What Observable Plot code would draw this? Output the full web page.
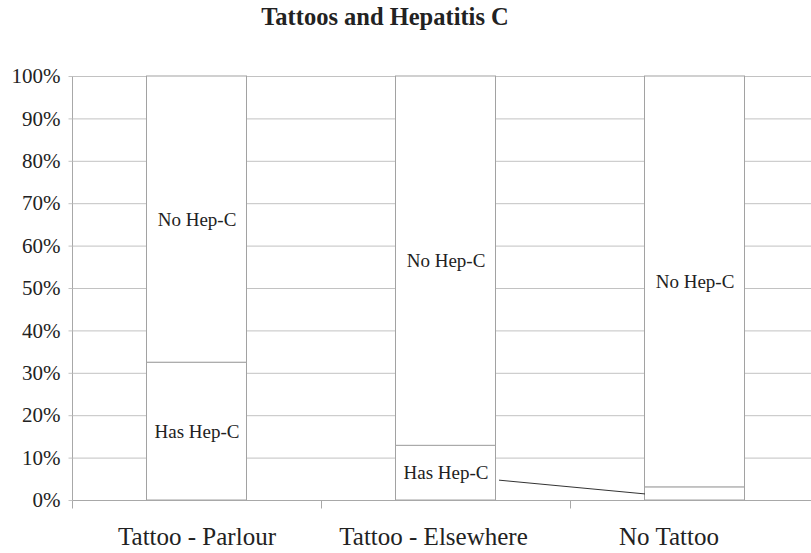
<!DOCTYPE html>
<html><head><meta charset="utf-8">
<script src="https://cdn.jsdelivr.net/npm/d3@7"></script>
<script src="https://cdn.jsdelivr.net/npm/@observablehq/plot@0.6"></script>
<style>
body{margin:0;background:#fff;}
#wrap{position:relative;width:811px;height:553px;overflow:hidden;background:#fff;}
#chart{position:absolute;left:0;top:0;width:819px;height:553px;}
#chart svg{max-width:none !important;width:819px !important;height:553px !important;}
#chart svg, #chart svg g, #chart svg text{font-family:"Liberation Serif","Times New Roman",serif !important;}
#title{position:absolute;left:0;top:5px;width:770px;text-align:center;font:bold 24.5px/24px "Liberation Serif","Times New Roman",serif;color:#222;}
</style></head><body>
<div id="wrap"><div id="chart"></div><div id="title">Tattoos and Hepatitis C</div></div>
<script>
const categories = ["Tattoo - Parlour", "Tattoo - Elsewhere", "No Tattoo"];
const statuses = ["Has Hep-C", "No Hep-C"];
const hasHepC = [0.325, 0.129, 0.031];
const noHepC = [0.675, 0.871, 0.969];
const yTicks = [0, 0.1, 0.2, 0.3, 0.4, 0.5, 0.6, 0.7, 0.8, 0.9, 1.0];

const data = [];
categories.forEach((c, i) => {
  data.push({cat: c, status: statuses[0], value: hasHepC[i]});
  data.push({cat: c, status: statuses[1], value: noHepC[i]});
});

const serif = '"Liberation Serif","Times New Roman",serif';
const gridColor = "#c2c2c2";
const axisColor = "#a8a8a8";
const barStroke = "#a2a2a2";
const textColor = "#222";
const barInset = 74.5;
const catLabelShift = [0, -12.5, -26]; // the original's category labels drift left of the band centres

function extras(index, scales, values, dims) {
  const x = scales.x, y = scales.y;
  const bw = typeof x.bandwidth === "function" ? x.bandwidth() : x.bandwidth;
  const g = d3.create("svg:g").attr("transform", "translate(0.5,0.5)");
  const x0 = dims.marginLeft, y0 = y(0);
  g.append("line").attr("x1", x0).attr("x2", x0).attr("y1", y(1)).attr("y2", y0 + 8).attr("stroke", axisColor);
  g.append("line").attr("x1", x0).attr("x2", dims.width).attr("y1", y0).attr("y2", y0).attr("stroke", axisColor);
  for (const t of yTicks) {
    g.append("line").attr("x1", x0 - 4).attr("x2", x0).attr("y1", y(t)).attr("y2", y(t)).attr("stroke", gridColor);
  }
  categories.forEach((c, i) => {
    if (i > 0) g.append("line").attr("x1", x(c)).attr("x2", x(c)).attr("y1", y0).attr("y2", y0 + 8).attr("stroke", axisColor);
  });
  // leader line from the "Has Hep-C" label to the No Tattoo segment
  const half = bw / 2 - barInset;
  const sx = x(categories[1]) + bw / 2 + half + 3;
  const sy = y(hasHepC[1] / 2) + 7;
  const ex = x(categories[2]) + bw / 2 - half;
  const ey = y(hasHepC[2] / 2);
  g.append("line").attr("x1", sx).attr("y1", sy).attr("x2", ex).attr("y2", ey)
    .attr("stroke", "#333").attr("stroke-width", 1);
  return g.node();
}

const chart = Plot.plot({
  width: 819,
  height: 553,
  marginLeft: 72,
  marginRight: 0,
  marginTop: 76,
  marginBottom: 53,
  style: {fontFamily: serif, color: textColor, background: "transparent"},
  x: {domain: categories, padding: 0, label: null, axis: null},
  y: {domain: [0, 1], label: null},
  marks: [
    Plot.gridY(yTicks, {stroke: gridColor, strokeOpacity: 1}),
    Plot.barY(data, {x: "cat", y: "value", z: "status", fill: "white", stroke: barStroke, strokeWidth: 1, insetLeft: barInset, insetRight: barInset}),
    extras,
    Plot.text(data, Plot.stackY({x: "cat", y: "value", z: "status",
      text: d => (d.cat === categories[2] && d.status === statuses[0]) ? "" : d.status,
      fontSize: 19, fill: textColor})),
    Plot.axisY(yTicks, {tickSize: 0, tickPadding: 12, fontSize: 21, fill: textColor, tickFormat: d3.format(".0%")}),
    ...categories.map((c, i) => Plot.text([c], {x: d => d, text: d => d, frameAnchor: "bottom", lineAnchor: "top",
      dy: 27, dx: catLabelShift[i], fontSize: 25, fill: textColor}))
  ]
});
document.getElementById("chart").appendChild(chart);
</script>
</body></html>
